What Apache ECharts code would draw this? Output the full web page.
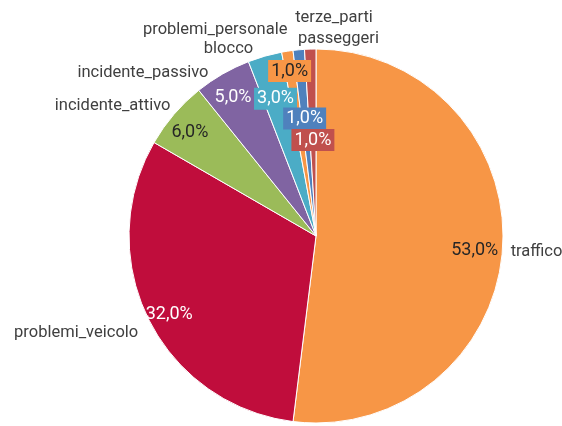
<!DOCTYPE html>
<html>
<head>
<meta charset="utf-8">
<script src="https://cdn.jsdelivr.net/npm/echarts@6/dist/echarts.min.js"></script>
<style>
  html, body { margin: 0; padding: 0; background: #fff; }
  #chart { width: 562px; height: 426px; }
</style>
</head>
<body>
<div id="chart"></div>
<script>
const categories = ['traffico', 'problemi_veicolo', 'incidente_attivo', 'incidente_passivo', 'blocco', 'problemi_personale', 'terze_parti', 'passeggeri'];
const values = [53, 32, 6, 5, 3, 1, 1, 1];
const percentLabels = ['53,0%', '32,0%', '6,0%', '5,0%', '3,0%', '1,0%', '1,0%', '1,0%'];

const colors = ['#F79646', '#C00D3C', '#9BBB59', '#8064A2', '#4BACC6', '#F79646', '#4F81BD', '#C0504D'];
const darkText = [true, false, true, false, false, true, false, false];
const boxed = [false, false, false, false, true, true, true, true];
// distance of each percent label from the centre
const labelRing = [156, 161, 163, 163, 145, 169, 120, 98];
// nudges for the name labels (Excel "best fit" placement); echarts applies them twice
const nameShift = [[-1.5, 2], [0, 5.5], [3, -2.5], [-3, 2], [-2.5, -0.5], [3, -7.5], [1, -13], [-3.5, -2]];
const nameAlign = [null, null, null, null, null, null, 'left', 'left'];

const center = [316, 236];
const radius = 187;
const font = 'Roboto, "Liberation Sans", sans-serif';

let chartElement = document.getElementById('chart');
let chart = echarts.init(chartElement, null, { renderer: 'canvas' });

function pieData(showIndex) {
    return categories.map((name, i) => ({
        name: name,
        value: values[i],
        label: {
            show: showIndex === i,
            formatter: percentLabels[i],
            color: darkText[i] ? '#262626' : '#ffffff',
            backgroundColor: boxed[i] ? colors[i] : 'transparent',
            padding: boxed[i] ? [3, 3, 1, 3] : 0
        }
    }));
}

let series = [{
    type: 'pie',
    center: center,
    radius: radius,
    startAngle: 90,
    clockwise: true,
    avoidLabelOverlap: false,
    animation: false,
    itemStyle: { borderColor: '#ffffff', borderWidth: 1 },
    label: {
        show: true,
        position: 'outside',
        formatter: '{b}',
        fontFamily: font,
        fontSize: 16.5,
        color: '#404040'
    },
    labelLine: { show: false, length: 6, length2: 0 },
    labelLayout: function (params) {
        let i = params.dataIndex;
        let layout = { hideOverlap: false, moveOverlap: false, dx: nameShift[i][0], dy: nameShift[i][1] };
        if (nameAlign[i]) {
            layout.align = nameAlign[i];
        }
        return layout;
    },
    data: categories.map((name, i) => ({ name: name, value: values[i], itemStyle: { color: colors[i] } }))
}];

categories.forEach((name, i) => {
    series.push({
        type: 'pie',
        center: center,
        radius: [labelRing[i] - 1, labelRing[i] + 1],
        startAngle: 90,
        clockwise: true,
        avoidLabelOverlap: false,
        silent: true,
        animation: false,
        itemStyle: { color: 'transparent', borderWidth: 0 },
        label: {
            position: 'inside',
            fontFamily: font,
            fontSize: 18
        },
        labelLine: { show: false },
        labelLayout: { hideOverlap: false, dy: 2.5 },
        emphasis: { disabled: true },
        data: pieData(i)
    });
});

chart.setOption({
    backgroundColor: '#ffffff',
    series: series
});

const resizeObserver = new ResizeObserver(() => {
    chart.resize();
});
resizeObserver.observe(chartElement);
</script>
</body>
</html>
